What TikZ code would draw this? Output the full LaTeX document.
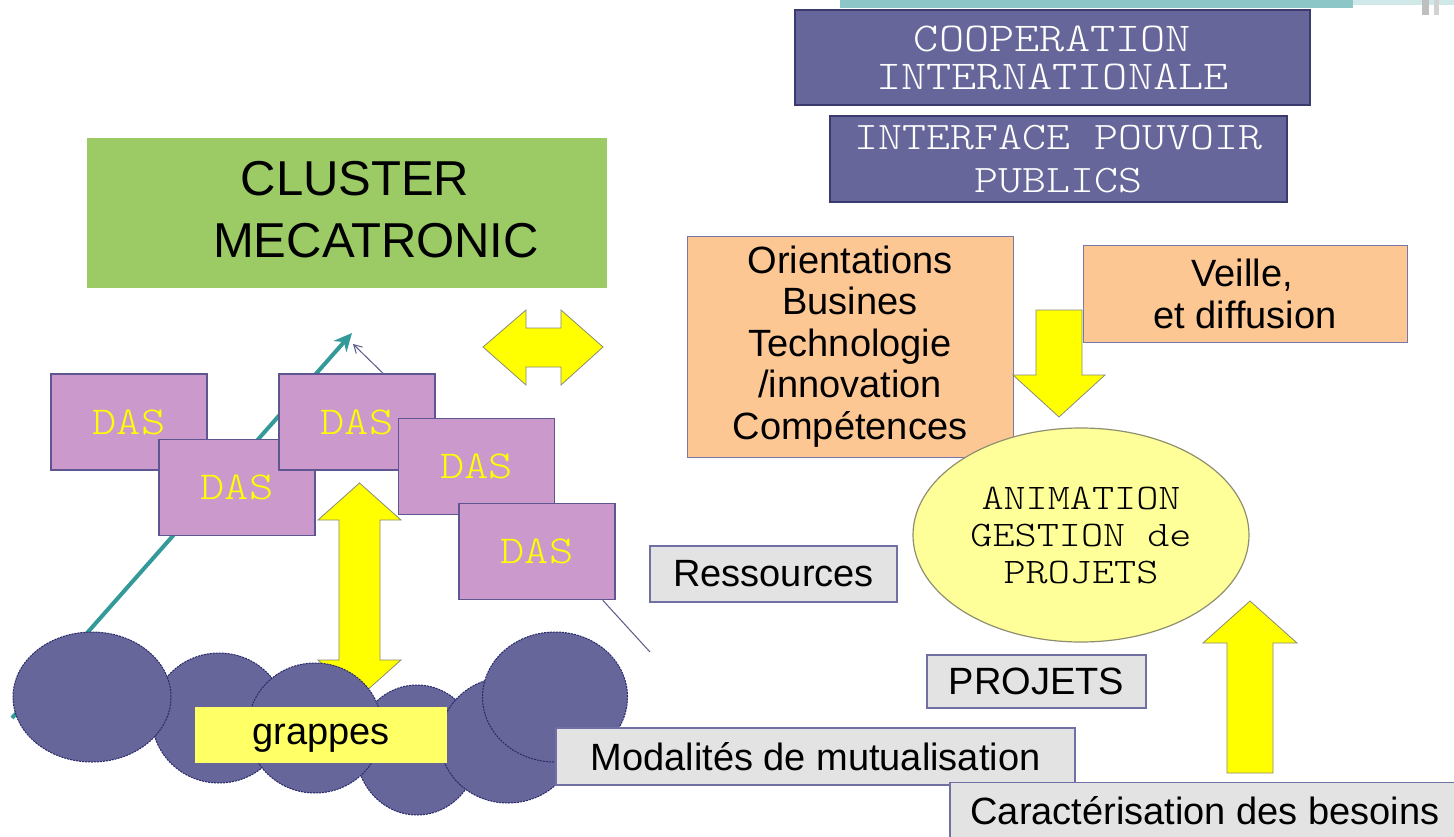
\documentclass[tikz,border=0pt]{standalone}
\usepackage{fontspec}
\setmainfont{Liberation Sans}
\newfontfamily\monof{lmmonolt10-regular.otf}[FakeStretch=1.17]
\usetikzlibrary{arrows.meta,shapes.geometric}
\definecolor{slate}{HTML}{66669A}
\definecolor{slatedark}{HTML}{3A3A6E}
\definecolor{clustergreen}{HTML}{9CCB66}
\definecolor{dasfill}{HTML}{CC99CC}
\definecolor{dasline}{HTML}{5E5690}
\definecolor{dastext}{HTML}{FFFF00}
\definecolor{peach}{HTML}{FDC794}
\definecolor{peachline}{HTML}{7878A8}
\definecolor{grayfill}{HTML}{E3E3E3}
\definecolor{grayline}{HTML}{7070A4}
\definecolor{animfill}{HTML}{FFFF99}
\definecolor{animline}{HTML}{8F8F70}
\definecolor{yarrowfill}{HTML}{FFFF00}
\definecolor{yarrowline}{HTML}{8A8A78}
\definecolor{grapefill}{HTML}{66669A}
\definecolor{grapeline}{HTML}{28286A}
\definecolor{tealc}{HTML}{339999}
\definecolor{thinc}{HTML}{5A5A8C}
\definecolor{grappec}{HTML}{FFFF66}
\definecolor{stripteal}{HTML}{8CC6C6}
\tikzset{
  box/.style={rectangle, inner sep=0pt, align=center},
  sans/.style={font=\fontsize{38}{41.5}\selectfont},
  purplebox/.style={box, fill=slate, draw=slatedark, line width=1.5pt, text=white},
  dasbox/.style={box, fill=dasfill, draw=dasline, line width=1.5pt, text=dastext,
    font=\monof\fontsize{39.5}{40}\selectfont, minimum width=156pt, minimum height=96pt},
  graybox/.style={box, sans, fill=grayfill, draw=grayline, line width=1.5pt},
  peachbox/.style={box, sans, fill=peach, draw=peachline, line width=1pt},
  yarrow/.style={fill=yarrowfill, draw=yarrowline, line width=0.8pt},
  grape/.style={ellipse, inner sep=0pt, fill=grapefill, draw=grapeline, line width=1pt,
    dash pattern=on 2pt off 1pt},
  thinline/.style={draw=thinc, line width=1pt},
}
\begin{document}
\begin{tikzpicture}[x=1pt,y=-1pt]
\useasboundingbox (0,0) rectangle (1454,836);
\clip (0,0) rectangle (1454,836);
\fill[white] (0,0) rectangle (1454,836);
% top strip fragment
\fill[stripteal] (840,0) rectangle (1353,8);
\fill[white!60!stripteal] (1353,0) rectangle (1454,5);
\fill[gray!50] (1422,0) rectangle (1429,15);
\fill[gray!35] (1434,0) rectangle (1439,15);

% purple boxes
\node[purplebox, font=\monof\fontsize{41}{38}\selectfont, minimum width=515pt, minimum height=95pt]
  (coop) at (1052.5,57.5) {COOPERATION\\INTERNATIONALE};
\node[purplebox, font=\monof\fontsize{39}{43}\selectfont, minimum width=457pt, minimum height=86pt]
  (iface) at (1058.5,159) {INTERFACE POUVOIR\\PUBLICS};

% cluster
\node[box, fill=clustergreen, minimum width=520pt, minimum height=150pt] (cluster) at (347,213) {};
\node[font=\fontsize{49}{50}\selectfont, inner sep=0pt, anchor=base] (clusterA) at (355,195) {CLUSTER};
\node[font=\fontsize{49}{50}\selectfont, inner sep=0pt, anchor=base] (clusterB) at (376,257.5) {MECATRONIC};

% teal arrow
\coordinate (tealstart) at (12,718);
\coordinate (tealtip) at (352,333);
\draw[tealc, line width=4pt, -{Stealth[length=18pt,width=17pt]}] (tealstart) -- (tealtip);

% horizontal double arrow
\draw[yarrow] (483,347) -- (526,310) -- (526,328) -- (561,328) -- (561,310) -- (603,347)
  -- (561,385) -- (561,367) -- (526,367) -- (526,385) -- cycle;

% DAS boxes
\node[dasbox] (das1) at (129,422) {DAS};
\node[dasbox] (das2) at (237,487.5) {DAS};
\node[dasbox] (das3) at (357,422) {DAS};
\node[dasbox] (das4) at (476.5,466.5) {DAS};
\node[dasbox] (das5) at (537,551.5) {DAS};

% thin connectors
\coordinate (thintip) at (353,344);
\draw[thinline, -{Straight Barb[length=8pt,width=9pt]}] ([xshift=26pt]das3.north) -- (thintip);
\coordinate (dasend) at (650,652);
\draw[thinline] ([xshift=-13pt]das5.south east) -- (dasend);

% vertical double arrow
\draw[yarrow] (359.5,483) -- (401,520) -- (380,520) -- (380,660) -- (401,660) -- (359.5,697)
  -- (318,660) -- (339,660) -- (339,520) -- (318,520) -- cycle;

% grapes
\node[grape, minimum width=134pt, minimum height=130pt] (g2) at (219,718) {};
\node[grape, minimum width=158pt, minimum height=130pt] (g1) at (92,697) {};
\node[grape, minimum width=122pt, minimum height=130pt] (g4) at (417,750) {};
\node[grape, minimum width=134pt, minimum height=130pt] (g3) at (315,728) {};
\node[grape, minimum width=136pt, minimum height=126pt] (g5) at (508,740) {};
\node[grape, minimum width=145pt, minimum height=130pt] (g6) at (555,697) {};
\node[box, sans, fill=grappec, minimum width=252pt, minimum height=56pt,
  text height=27pt, text depth=8pt] (grappes) at (321,735) {grappes};

% gray boxes
\node[graybox, minimum width=247pt, minimum height=56pt] (ress) at (773.5,574) {Ressources};
\node[graybox, minimum width=219pt, minimum height=53pt] (projets) at (1036.5,681.5) {PROJETS};
\node[graybox, minimum width=519pt, minimum height=57pt] (modal) at (815.5,756.5) {Modalités de mutualisation};
\node[graybox, minimum width=510pt, minimum height=57pt] (carac) at (1205,811) {Caractérisation des besoins};

% right side
\node[peachbox, minimum width=326pt, minimum height=221pt] (orient) at (850,346.5)
  {Orientations\\Busines\\Technologie\\/innovation\\Compétences};
\draw[yarrow] (1036,310) -- (1082,310) -- (1082,375) -- (1105,375) -- (1059,417) -- (1013,375)
  -- (1036,375) -- cycle;
\node[peachbox, font=\fontsize{38}{42}\selectfont, minimum width=324pt, minimum height=97pt] (veille) at (1245,293.5)
  {Veille,\hspace*{6pt}\\et diffusion};
\node[ellipse, inner sep=0pt, fill=animfill, draw=animline, line width=1.2pt,
  minimum width=336pt, minimum height=214pt, align=center,
  font=\monof\fontsize{36}{37}\selectfont] (anim) at (1081,535)
  {ANIMATION\\GESTION de\\PROJETS};
\draw[yarrow] (1250,601) -- (1297,643) -- (1273,643) -- (1273,773) -- (1227,773) -- (1227,643)
  -- (1203,643) -- cycle;
\end{tikzpicture}
\end{document}
